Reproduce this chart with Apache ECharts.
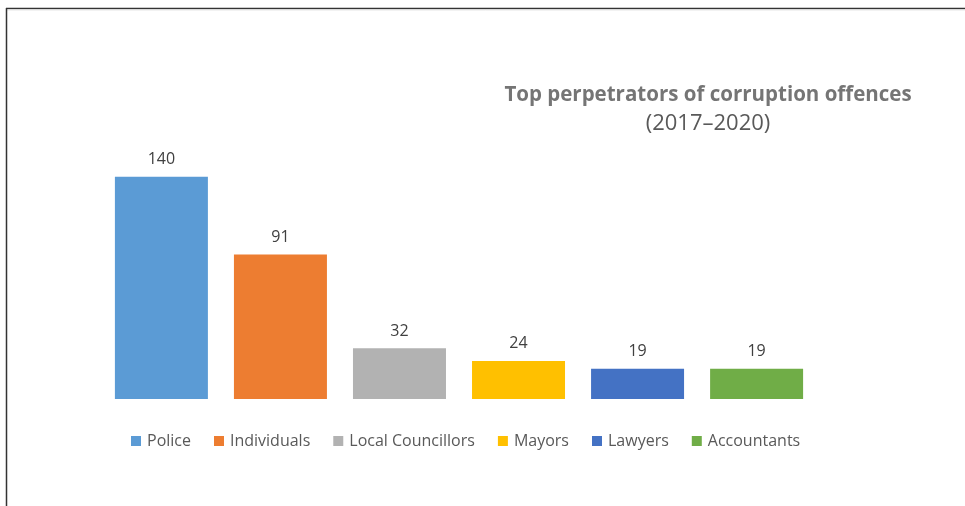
<!DOCTYPE html>
<html>
<head>
<meta charset="utf-8">
<script src="https://cdn.jsdelivr.net/npm/echarts@6/dist/echarts.min.js"></script>
<style>
  html, body { margin: 0; padding: 0; background: #fff; }
  #main { width: 965px; height: 506px; }
</style>
</head>
<body>
<div id="main"></div>
<script>
// data
var groups = ['Police', 'Individuals', 'Local Councillors', 'Mayors', 'Lawyers', 'Accountants'];
var counts = [140, 91, 32, 24, 19, 19];
var colors = ['#5B9BD5', '#ED7D31', '#B2B2B2', '#FFC000', '#4472C4', '#70AD47'];

var chart = echarts.init(document.getElementById('main'));

var series = [];
for (var i = 0; i < groups.length; i++) {
    series.push({
        name: groups[i],
        type: 'bar',
        data: [counts[i]],
        barWidth: 93,
        barGap: '28%',
        itemStyle: { color: colors[i] },
        label: {
            show: true,
            position: 'top',
            distance: 9,
            color: '#404040',
            fontSize: 16,
            fontFamily: 'Open Sans'
        }
    });
}

chart.setOption({
    backgroundColor: '#fff',
    animation: false,
    title: {
        text: 'Top perpetrators of corruption offences',
        subtext: '(2017\u20132020)',
        left: 703,
        top: 80,
        textAlign: 'center',
        itemGap: 7,
        textStyle: { color: '#757575', fontSize: 20.5, fontWeight: 'bold', fontFamily: 'Open Sans' },
        subtextStyle: { color: '#595959', fontSize: 22, fontFamily: 'Open Sans' }
    },
    legend: {
        data: groups,
        left: 126,
        top: 428,
        icon: 'rect',
        itemWidth: 10,
        itemHeight: 10,
        itemGap: 23,
        textStyle: { color: '#595959', fontSize: 16, fontFamily: 'Open Sans', padding: [0, 0, 0, 1] }
    },
    grid: { left: 102, width: 714, top: 145, height: 254, containLabel: false },
    xAxis: {
        type: 'category',
        data: [''],
        axisLine: { show: false },
        axisTick: { show: false },
        axisLabel: { show: false }
    },
    yAxis: {
        type: 'value',
        min: 0,
        max: 160,
        show: false,
        splitLine: { show: false }
    },
    graphic: [
        { type: 'line', shape: { x1: 6, y1: 8.5, x2: 965, y2: 8.5 }, style: { stroke: '#333', lineWidth: 1.5 } },
        { type: 'line', shape: { x1: 6, y1: 10, x2: 965, y2: 10 }, style: { stroke: '#e6e6e6', lineWidth: 1 } },
        { type: 'line', shape: { x1: 6.5, y1: 8, x2: 6.5, y2: 506 }, style: { stroke: '#333', lineWidth: 1.5 } }
    ],
    series: series
});
</script>
</body>
</html>
